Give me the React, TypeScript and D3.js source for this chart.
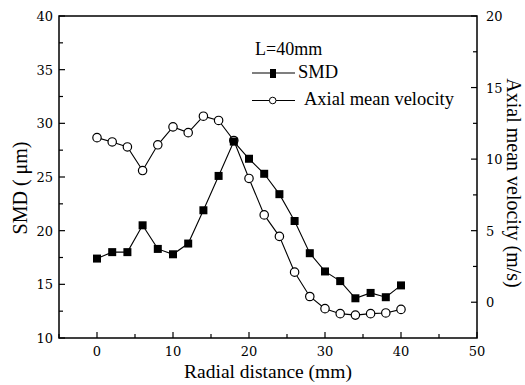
import React from "react";
import * as d3 from "d3";

const radial = [0, 2, 4, 6, 8, 10, 12, 14, 16, 18, 20, 22, 24, 26, 28, 30, 32, 34, 36, 38, 40];
const smd = [17.4, 18.0, 18.0, 20.5, 18.3, 17.8, 18.8, 21.9, 25.1, 28.3, 26.7, 25.3, 23.4, 20.9, 17.9, 16.2, 15.3, 13.7, 14.2, 13.8, 14.9];
const velocity = [11.5, 11.2, 10.85, 9.2, 11.0, 12.25, 11.85, 13.0, 12.7, 11.3, 8.65, 6.1, 4.6, 2.1, 0.4, -0.45, -0.8, -0.9, -0.8, -0.75, -0.5];

const xTicks = [0, 10, 20, 30, 40, 50];
const xMinor = [-5, 5, 15, 25, 35, 45];
const yLeftTicks = [10, 15, 20, 25, 30, 35, 40];
const yLeftMinor = [12.5, 17.5, 22.5, 27.5, 32.5, 37.5];
const yRightTicks = [0, 5, 10, 15, 20];
const yRightMinor = [2.5, 7.5, 12.5, 17.5];

const W = 525, H = 385;
const L = 59, R = 477, T = 16, B = 338;
const FONT = "'Liberation Serif', 'Times New Roman', serif";
const TICKFONT = "'DejaVu Serif', serif";

export default function App() {
  const x = d3.scaleLinear().domain([-5, 50]).range([L, R]);
  const yL = d3.scaleLinear().domain([10, 40]).range([B, T]);
  const yR = d3.scaleLinear().domain([-2.5, 20]).range([B, T]);

  const smdLine = d3.line<number>().x((_, i) => x(radial[i])).y((d) => yL(d));
  const velLine = d3.line<number>().x((_, i) => x(radial[i])).y((d) => yR(d));

  const maj = 6, min = 4;
  return (
    <div style={{ position: "absolute", left: 0, top: 0 }}>
      <svg width={W} height={H} style={{ display: "block", background: "#fff" }}>
        <rect x={L} y={T} width={R - L} height={B - T} fill="none" stroke="#000" strokeWidth={1.5} />
        {/* x ticks */}
        {xTicks.map((t) => (
          <g key={"xt" + t}>
            <line x1={x(t)} x2={x(t)} y1={B} y2={B - maj} stroke="#000" strokeWidth={1.2} />
            <text x={x(t)} y={356} fontSize={13} fontFamily={TICKFONT} textAnchor="middle">{t}</text>
          </g>
        ))}
        {xMinor.map((t) => (
          <line key={"xm" + t} x1={x(t)} x2={x(t)} y1={B} y2={B - min} stroke="#000" strokeWidth={1.2} />
        ))}
        {/* left ticks */}
        {yLeftTicks.map((t) => (
          <g key={"yl" + t}>
            <line x1={L} x2={L + maj} y1={yL(t)} y2={yL(t)} stroke="#000" strokeWidth={1.2} />
            <text x={L - 6} y={yL(t) + 5} fontSize={13} fontFamily={TICKFONT} textAnchor="end">{t}</text>
          </g>
        ))}
        {yLeftMinor.map((t) => (
          <line key={"ylm" + t} x1={L} x2={L + min} y1={yL(t)} y2={yL(t)} stroke="#000" strokeWidth={1.2} />
        ))}
        {/* right ticks */}
        {yRightTicks.map((t) => (
          <g key={"yr" + t}>
            <line x1={R} x2={R - maj} y1={yR(t)} y2={yR(t)} stroke="#000" strokeWidth={1.2} />
            <text x={R + 9} y={yR(t) + 5} fontSize={13} fontFamily={TICKFONT} textAnchor="start">{t}</text>
          </g>
        ))}
        {yRightMinor.map((t) => (
          <line key={"yrm" + t} x1={R} x2={R - min} y1={yR(t)} y2={yR(t)} stroke="#000" strokeWidth={1.2} />
        ))}
        {/* axis titles */}
        <text x={268} y={377.5} fontSize={19.5} fontFamily={FONT} textAnchor="middle">Radial distance (mm)</text>
        <text transform={`translate(27,188) rotate(-90)`} fontSize={20} fontFamily={FONT} textAnchor="middle">SMD ( μm)</text>
        <text transform={`translate(507,183) rotate(90)`} fontSize={20} fontFamily={FONT} textAnchor="middle">Axial mean velocity (m/s)</text>

        {/* series */}
        <path d={velLine(velocity) || ""} fill="none" stroke="#000" strokeWidth={1.1} />
        <path d={smdLine(smd) || ""} fill="none" stroke="#000" strokeWidth={1.1} />
        {velocity.map((v, i) => (
          <circle key={"c" + i} cx={x(radial[i])} cy={yR(v)} r={4.2} fill="#fff" stroke="#000" strokeWidth={1.2} />
        ))}
        {smd.map((v, i) => (
          <rect key={"s" + i} x={x(radial[i]) - 4} y={yL(v) - 4} width={8} height={8} fill="#000" />
        ))}

        {/* legend */}
        <text x={255} y={55} fontSize={18} fontFamily={FONT}>L=40mm</text>
        <line x1={252} x2={295} y1={73} y2={73} stroke="#000" strokeWidth={1.2} />
        <rect x={270} y={69} width={6} height={9} fill="#000" />
        <text x={298} y={78} fontSize={18.5} fontFamily={FONT}>SMD</text>
        <line x1={252} x2={295} y1={100.5} y2={100.5} stroke="#000" strokeWidth={1.2} />
        <circle cx={272.7} cy={100.5} r={3.3} fill="#fff" stroke="#000" strokeWidth={1} />
        <text x={304} y={105} fontSize={18.5} fontFamily={FONT}>Axial mean velocity</text>
      </svg>
    </div>
  );
}
